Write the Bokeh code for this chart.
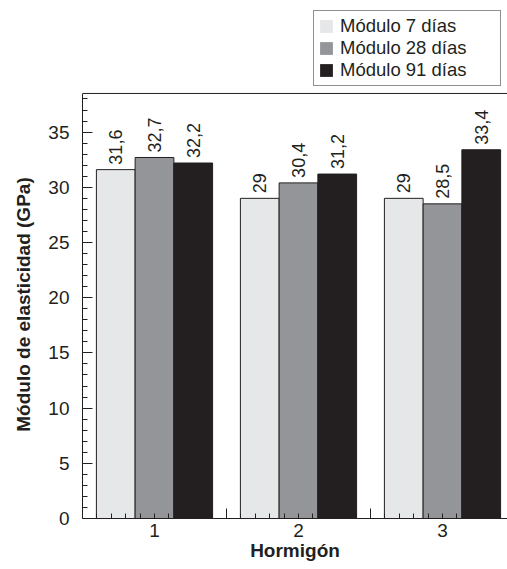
import numpy as np
from bokeh.plotting import figure
from bokeh.layouts import column
from bokeh.models import (ColumnDataSource, FixedTicker, SingleIntervalTicker,
                          LinearAxis, Range1d, Legend, LegendItem, Span)
from bokeh.transform import dodge
from bokeh.core.properties import value
from bokeh.embed import file_html
from bokeh.resources import INLINE

# ---- data ----
groups = [1, 2, 3]
group_labels = ["1", "2", "3"]
series_names = ["Módulo 7 días", "Módulo 28 días", "Módulo 91 días"]
mod_7 = [31.6, 29.0, 29.0]
mod_28 = [32.7, 30.4, 28.5]
mod_91 = [32.2, 31.2, 33.4]

# ---- style / layout ----
FONT = "Liberation Sans"
INK = "#231f20"
colors = ["#e6e7e8", "#939598", "#231f20"]
offsets = [-0.269, 0.0, 0.269]
bar_w = 0.269
FIG_W = 507
LEG_H = 90                      # height of the legend strip on top
MAIN_H = 569 - LEG_H
BORDER_L, BORDER_B = 82, 51
FRAME_W = FIG_W - BORDER_L
FRAME_H = MAIN_H - BORDER_B
PX_PER_X = 144
PX_PER_Y = 11.04
Y_AXIS_TOP = 38.5

def fmt(v):
    return f"{v:g}".replace(".", ",")

source = ColumnDataSource(dict(
    x=groups,
    m7=mod_7, m28=mod_28, m91=mod_91,
    l7=[fmt(v) for v in mod_7],
    l28=[fmt(v) for v in mod_28],
    l91=[fmt(v) for v in mod_91],
))

# ---------------- main chart ----------------
p = figure(width=FIG_W, height=MAIN_H,
           x_range=Range1d(0.5, 0.5 + FRAME_W / PX_PER_X),
           y_range=Range1d(0, FRAME_H / PX_PER_Y),
           output_backend="svg", toolbar_location=None,
           min_border_left=BORDER_L, min_border_right=0,
           min_border_top=0, min_border_bottom=BORDER_B)
p.xgrid.visible = False
p.ygrid.visible = False
p.outline_line_color = None
p.background_fill_color = "white"
p.border_fill_color = "white"

for col, lab, off, c in zip(["m7", "m28", "m91"], ["l7", "l28", "l91"],
                            offsets, colors):
    xs = dodge("x", off, range=p.x_range)
    p.vbar(x=xs, top=col, width=bar_w, source=source,
           fill_color=c, line_color=INK, line_width=1)
    p.text(x=xs, y=col, text=lab, source=source, angle=np.pi / 2,
           text_align="left", text_baseline="middle", y_offset=-5,
           text_font=value(FONT), text_font_size="18px", text_color=INK)

# top frame line of the plotting box
p.add_layout(Span(location=Y_AXIS_TOP, dimension="width",
                  line_color=INK, line_width=1))

xa = p.xaxis[0]
minor_x = [round(v, 2) for v in np.arange(0.6, 3.45, 0.1)]
xa.ticker = FixedTicker(ticks=groups, minor_ticks=minor_x)
xa.major_label_overrides = {g: s for g, s in zip(groups, group_labels)}
xa.major_tick_line_color = None
xa.major_tick_in = 0
xa.major_tick_out = 0
xa.minor_tick_in = 5
xa.minor_tick_out = 0
xa.minor_tick_line_color = INK
xa.axis_line_color = INK
xa.axis_label = "Hormigón"
xa.axis_label_text_font = FONT
xa.axis_label_text_font_style = "bold"
xa.axis_label_text_font_size = "19px"
xa.axis_label_text_color = INK
xa.axis_label_standoff = 0
xa.major_label_text_font = FONT
xa.major_label_text_font_size = "19px"
xa.major_label_text_color = INK
xa.major_label_standoff = 5

ya = p.yaxis[0]
ya.bounds = (0, Y_AXIS_TOP)
ya.ticker = SingleIntervalTicker(interval=5, num_minor_ticks=5)
ya.major_tick_in = 10
ya.major_tick_out = 0
ya.minor_tick_in = 5
ya.minor_tick_out = 0
ya.major_tick_line_color = INK
ya.minor_tick_line_color = INK
ya.axis_line_color = INK
ya.axis_label = "Módulo de elasticidad (GPa)"
ya.axis_label_text_font = FONT
ya.axis_label_text_font_style = "bold"
ya.axis_label_text_font_size = "19px"
ya.axis_label_text_color = INK
ya.axis_label_standoff = 11
ya.major_label_text_font = FONT
ya.major_label_text_font_size = "19px"
ya.major_label_text_color = INK
ya.major_label_standoff = 13

# long separators between groups, drawn upward from the baseline
sep_axis = LinearAxis(ticker=FixedTicker(ticks=[1.5, 2.5]), fixed_location=0,
                      axis_line_color=None, major_tick_in=0, major_tick_out=10,
                      major_tick_line_color=INK, minor_tick_line_color=None,
                      major_label_overrides={1.5: "", 2.5: ""})
p.add_layout(sep_axis, "above")

# ---------------- legend strip ----------------
# (its frame is aligned with the main chart's frame by the column layout)
lg = figure(width=FIG_W, height=LEG_H, x_range=Range1d(100, 101),
            y_range=Range1d(100, 101), x_axis_type=None, y_axis_type=None,
            output_backend="svg", toolbar_location=None,
            min_border=0, outline_line_color=None)
lg.xgrid.visible = False
lg.ygrid.visible = False
items = []
for col, c, name in zip(["m7", "m28", "m91"], colors, series_names):
    r = lg.vbar(x="x", top=col, width=bar_w, source=source,
                fill_color=c, line_color=None)
    items.append(LegendItem(label=name, renderers=[r]))

legend = Legend(items=items, location=(313 - BORDER_L, LEG_H - 86),
                label_text_font=FONT, label_text_font_size="18.5px",
                label_text_color=INK, glyph_width=16, glyph_height=16,
                label_standoff=6, label_width=156, label_height=21,
                spacing=-2, padding=4, margin=0,
                border_line_color=INK, border_line_width=1,
                background_fill_color="white", background_fill_alpha=1.0)
lg.add_layout(legend, "center")

layout = column(lg, p, spacing=0)
open("out.html", "w").write(file_html(layout, INLINE))
